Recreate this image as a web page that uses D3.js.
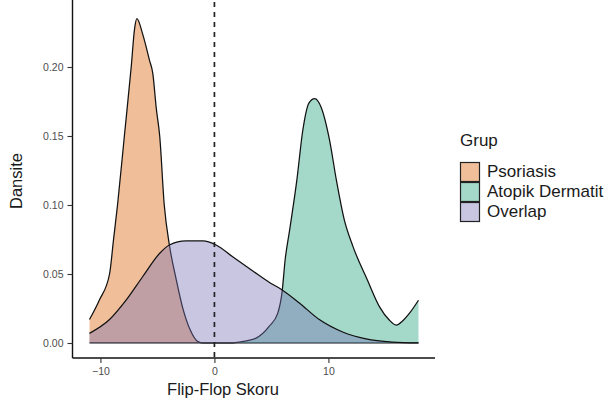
<!DOCTYPE html>
<html>
<head>
<meta charset="utf-8">
<script src="https://cdn.jsdelivr.net/npm/d3@7"></script>
<style>
  body { margin: 0; background: #fff; }
  text { font-family: "Liberation Sans", Arial, sans-serif; }
</style>
</head>
<body>
<svg></svg>
<script>
var width = 612;
var height = 405;

// density curves (x = score, y = density)
var psoriasisX = [-10.96, -10.1, -9.2, -8.85, -8.5, -7.9, -7.3, -7.0, -6.8, -6.3, -5.7, -5.4, -5.1, -4.8, -4.4, -3.95, -3.35, -2.8, -2.1, -1.45, -1.0, 17.9];
var psoriasisY = [0.017, 0.031, 0.050, 0.075, 0.100, 0.150, 0.200, 0.228, 0.235, 0.224, 0.205, 0.195, 0.170, 0.150, 0.100, 0.071, 0.046, 0.026, 0.009, 0.001, 0, 0];

var atopikX = [-10.96, 1.6, 2.3, 3.65, 4.8, 5.55, 5.95, 6.2, 6.6, 7.23, 7.75, 8.3, 8.8, 9.35, 10.1, 10.7, 11.4, 12.15, 13.4, 14.5, 15.3, 15.95, 16.5, 17.15, 17.9];
var atopikY = [0, 0, 0.0008, 0.0035, 0.012, 0.0215, 0.038, 0.060, 0.082, 0.118, 0.154, 0.174, 0.177, 0.171, 0.147, 0.118, 0.089, 0.070, 0.046, 0.026, 0.017, 0.013, 0.016, 0.022, 0.031];

var overlapX = [-10.96, -9.2, -7.75, -6.3, -4.8, -3.95, -2.5, -1.0, 0.15, 1.6, 3.4, 4.8, 5.85, 7.45, 9.2, 11.25, 13.3, 15.6, 17.9];
var overlapY = [0.007, 0.017, 0.031, 0.048, 0.065, 0.071, 0.074, 0.074, 0.071, 0.0625, 0.052, 0.044, 0.039, 0.029, 0.017, 0.008, 0.003, 0.0007, 0];

var groupNames = ["Psoriasis", "Atopik Dermatit", "Overlap"];
var groupColors = ["#D95F02", "#1B9E77", "#7570B3"];

var xTicks = [-10, 0, 10];
var yTicks = [0, 0.05, 0.10, 0.15, 0.20];

var groups = [
  { name: groupNames[0], x: psoriasisX, y: psoriasisY },
  { name: groupNames[1], x: atopikX, y: atopikY },
  { name: groupNames[2], x: overlapX, y: overlapY }
];

var svg = d3.select("svg")
    .attr("width", width)
    .attr("height", height);

var xScale = d3.scaleLinear()
    .domain([-12.45, 19.35])
    .range([72.5, 435]);

var yScale = d3.scaleLinear()
    .domain([-0.01087, 0.2471])
    .range([358, 2]);

var color = d3.scaleOrdinal()
    .domain(groupNames)
    .range(groupColors);

var area = d3.area()
    .x(d => xScale(d[0]))
    .y0(yScale(0))
    .y1(d => yScale(d[1]))
    .curve(d3.curveMonotoneX);

var line = d3.line()
    .x(d => xScale(d[0]))
    .y(d => yScale(d[1]))
    .curve(d3.curveMonotoneX);

groups.forEach(function(g) {
  var pts = g.x.map((v, i) => [v, g.y[i]]);
  svg.append("path")
      .datum(pts)
      .attr("d", area)
      .attr("fill", color(g.name))
      .attr("fill-opacity", 0.4);
  svg.append("path")
      .datum(pts)
      .attr("d", line)
      .attr("fill", "none")
      .attr("stroke", "#111")
      .attr("stroke-width", 1.25);
});

// dashed reference line at 0
svg.append("line")
    .attr("x1", xScale(0))
    .attr("x2", xScale(0))
    .attr("y1", yScale.range()[1])
    .attr("y2", yScale.range()[0])
    .attr("stroke", "#222")
    .attr("stroke-width", 1.7)
    .attr("stroke-dasharray", "5,5");

var xAxis = svg.append("g")
    .attr("transform", "translate(0," + 358 + ")")
    .call(d3.axisBottom(xScale)
            .tickValues(xTicks)
            .tickSize(5)
            .tickPadding(5)
            .tickFormat(d3.format("d")));

var yAxis = svg.append("g")
    .attr("transform", "translate(" + 72.5 + ",0)")
    .call(d3.axisLeft(yScale)
            .tickValues(yTicks)
            .tickSize(5)
            .tickPadding(4)
            .tickFormat(d3.format(".2f")));

[xAxis, yAxis].forEach(function(ax) {
  ax.select(".domain").attr("stroke", "#111").attr("stroke-width", 1.4);
  ax.selectAll(".tick line").attr("stroke", "#333").attr("stroke-width", 1.1);
  ax.selectAll(".tick text")
      .attr("fill", "#4d4d4d")
      .style("font-size", "10.5px")
      .style("font-family", "'Liberation Sans', Arial, sans-serif");
});

// axis lines run to the panel edges only
xAxis.select(".domain").attr("d", "M72.5,0H435");
yAxis.select(".domain").attr("d", "M0,0V358");

svg.append("text")
    .attr("x", 223)
    .attr("y", 395)
    .style("text-anchor", "middle")
    .style("font-size", "16.5px")
    .attr("fill", "#1a1a1a")
    .text("Flip-Flop Skoru");

svg.append("text")
    .attr("transform", "rotate(-90)")
    .attr("x", -181)
    .attr("y", 22)
    .style("text-anchor", "middle")
    .style("font-size", "16.5px")
    .attr("fill", "#1a1a1a")
    .text("Dansite");

// legend
var legend = svg.append("g");

legend.append("text")
    .attr("x", 460)
    .attr("y", 146)
    .style("font-size", "17px")
    .attr("fill", "#1a1a1a")
    .text("Grup");

var keys = legend.selectAll("g.key")
    .data(groupNames)
  .enter()
    .append("g")
    .attr("transform", (d, i) => "translate(460," + (162 + i * 20) + ")");

keys.append("rect")
    .attr("x", 0.5)
    .attr("y", 0.5)
    .attr("width", 19)
    .attr("height", 19)
    .attr("fill", "#fff");

keys.append("rect")
    .attr("x", 0.5)
    .attr("y", 0.5)
    .attr("width", 19)
    .attr("height", 19)
    .attr("fill", d => color(d))
    .attr("fill-opacity", 0.4)
    .attr("stroke", "#222")
    .attr("stroke-width", 1.2);

keys.append("text")
    .attr("x", 27)
    .attr("y", 14.5)
    .style("font-size", "17px")
    .attr("fill", "#1a1a1a")
    .text(d => d);
</script>
</body>
</html>
